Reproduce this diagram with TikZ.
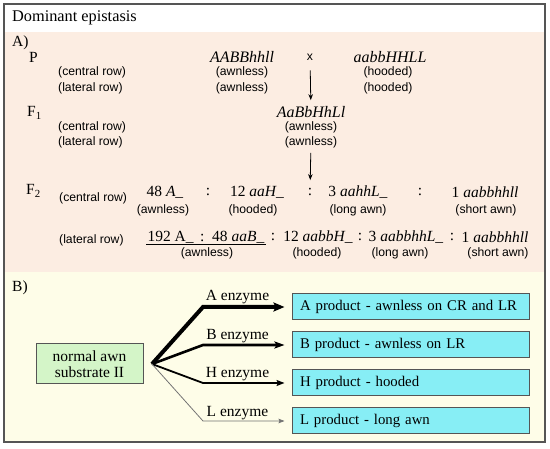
\documentclass[tikz,border=0pt]{standalone}
\usepackage{fontspec}
\setmainfont{Liberation Serif}
\setsansfont{Liberation Sans}
\usepackage{xcolor}
\usepackage{tikz}
\usetikzlibrary{arrows.meta}

\definecolor{panelA}{RGB}{252,237,226}
\definecolor{panelB}{RGB}{254,253,232}
\definecolor{subgreen}{RGB}{212,245,200}
\definecolor{prodcyan}{RGB}{135,238,245}
\definecolor{framegray}{RGB}{85,85,85}

\tikzset{
  serif/.style={font=\fontsize{15.5}{16}\selectfont, inner sep=1pt},
  rowlbl/.style={font=\sffamily\fontsize{12.2}{14}\selectfont, inner sep=1pt},
  geno/.style={serif, font=\fontsize{16}{16}\selectfont\itshape},
  subbox/.style={draw=framegray, line width=1pt, fill=subgreen, serif, align=center,
    minimum width=107pt, minimum height=40pt},
  prodbox/.style={draw=framegray, line width=1pt, fill=prodcyan, serif,
    font=\fontsize{14.8}{16}\selectfont, align=left,
    text width=221pt, inner xsep=8pt, minimum height=26pt},
  enzlbl/.style={serif, above=0pt, fill=none},
  cross/.style={black, line width=0.8pt, -{Stealth[length=6pt,width=4.5pt]}}
}

\begin{document}
\begin{tikzpicture}[x=1pt, y=-1pt]
    \useasboundingbox (0,0) rectangle (550,449);
    \fill[white] (0,0) rectangle (550,449);
    \fill[panelA] (4,32) rectangle (545,272);
    \fill[panelB] (4,272) rectangle (545,442);
    \draw[framegray, line width=1.5pt] (4,4) rectangle (545,442);

    \node[serif, font=\fontsize{16.3}{17}\selectfont, anchor=west] (title) at (11,18) {Dominant epistasis};

    % A) crosses
    \node[serif, anchor=west] (partA) at (11,43) {A)};
    \node[serif, anchor=west] (P) at (28,57) {P};
    \node[serif, anchor=west] (F1) at (26,113) {F\textsubscript{1}};
    \node[serif, anchor=west] (F2) at (25,191) {F\textsubscript{2}};

    \node[rowlbl, anchor=west] (pcr) at (57,72) {(central row)};
    \node[rowlbl, anchor=west] (plr) at (57,88) {(lateral row)};
    \node[rowlbl, anchor=west] (f1cr) at (57,127) {(central row)};
    \node[rowlbl, anchor=west] (f1lr) at (57,142) {(lateral row)};
    \node[rowlbl, anchor=west] (f2cr) at (58,198) {(central row)};
    \node[rowlbl, anchor=west] (f2lr) at (58,240) {(lateral row)};

    \node[geno] (mom) at (242,57) {AABBhhll};
    \node[rowlbl] (momcr) at (242,72) {(awnless)};
    \node[rowlbl] (momlr) at (242,88) {(awnless)};
    \node[rowlbl] (cross) at (310,57) {x};
    \node[geno] (dad) at (390,57) {aabbHHLL};
    \node[rowlbl] (dadcr) at (388,72) {(hooded)};
    \node[rowlbl] (dadlr) at (388,88) {(hooded)};

    \node[geno] (hyb) at (311,112) {AaBbHhLl};
    \node[rowlbl] (hybcr) at (311,127) {(awnless)};
    \node[rowlbl] (hyblr) at (311,142) {(awnless)};

    % F2 central row
    \node[serif] (cA) at (165,192) {48 \textit{A\_}};
    \node[serif] (cs1) at (208,192) {:};
    \node[serif] (cH) at (257,192) {12 \textit{aaH\_}};
    \node[serif] (cs2) at (310,192) {:};
    \node[serif] (cL) at (358,192) {3 \textit{aahhL\_}};
    \node[serif] (cs3) at (420,192) {:};
    \node[serif] (cs) at (485,192) {1 \textit{aabbhhll}};
    \node[rowlbl] (cAlbl) at (163,210) {(awnless)};
    \node[rowlbl] (cHlbl) at (253,210) {(hooded)};
    \node[rowlbl] (cLlbl) at (358,210) {(long awn)};
    \node[rowlbl] (cslbl) at (486,210) {(short awn)};

    % F2 lateral row
    \node[serif] (lAB) at (206,237) {192 A\_ \,:\, 48 \textit{aaB\_}};
    \node[serif] (ls1) at (273,237) {:};
    \node[serif] (lH) at (318,237) {12 \textit{aabbH\_}};
    \node[serif] (ls2) at (360,237) {:};
    \node[serif] (lL) at (406,237) {3 \textit{aabbhhL\_}};
    \node[serif] (ls3) at (452,237) {:};
    \node[serif] (ls) at (495,237) {1 \textit{aabbhhll}};
    \node[rowlbl] (lABlbl) at (207,253) {(awnless)};
    \node[rowlbl] (lHlbl) at (317,253) {(hooded)};
    \node[rowlbl] (lLlbl) at (400,253) {(long awn)};
    \node[rowlbl] (lslbl) at (498,253) {(short awn)};
    \draw[black, line width=0.8pt] (lAB.south west) -- (lAB.south east);

    \draw[cross, shorten <=9pt, shorten >=5pt] (cross) -- (hyb);
    \draw[cross, shorten <=4pt, shorten >=7pt] (hyblr) -- (cs2);

    % B) pathway
    \node[serif, anchor=west] (partB) at (11,288) {B)};
    \node[subbox] (substrate) at (89.5,364) {normal awn\\substrate II};
    \node[prodbox] (prodA) at (410.5,307) {\mbox{A product - awnless on CR and LR}};
    \node[prodbox] (prodB) at (410.5,345) {B product - awnless on LR};
    \node[prodbox] (prodH) at (410.5,383) {H product - hooded};
    \node[prodbox] (prodL) at (410.5,421) {L product - long awn};

    \coordinate (branch) at (152,364);
    \coordinate (bendA) at (203,307);
    \coordinate (bendB) at (203,345);
    \coordinate (bendH) at (203,383);
    \coordinate (bendL) at (203,421);

    \draw[black, line width=4pt, shorten >=7pt, -{Stealth[length=11pt,width=9pt,inset=2pt]}]
        (branch) -- (bendA) -- node[enzlbl, pos=0.39] {A enzyme} (prodA.west);
    \draw[black, line width=2.6pt, shorten >=7pt, -{Stealth[length=10pt,width=7pt,inset=2pt]}]
        (branch) -- (bendB) -- node[enzlbl, pos=0.39] {B enzyme} (prodB.west);
    \draw[black, line width=1.8pt, shorten >=7pt, -{Stealth[length=8pt,width=6pt,inset=1.5pt]}]
        (branch) -- (bendH) -- node[enzlbl, pos=0.39] {H enzyme} (prodH.west);
    \draw[black!55, line width=0.8pt, shorten >=7pt, -{Stealth[length=6pt,width=4.5pt,inset=1pt]}]
        (branch) -- (bendL) -- node[enzlbl, text=black, pos=0.39] {L enzyme} (prodL.west);
\end{tikzpicture}
\end{document}
